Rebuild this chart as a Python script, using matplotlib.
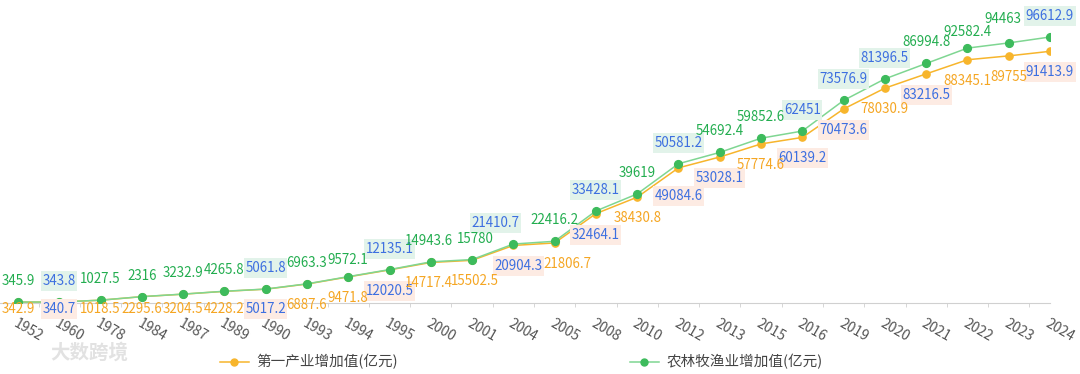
#!/usr/bin/env python3
"""Primary industry vs. farming/forestry/animal husbandry/fishery value added."""
import numpy as np
import matplotlib
matplotlib.use("Agg")
import matplotlib.pyplot as plt
from matplotlib.lines import Line2D
from matplotlib.path import Path

plt.rcParams["font.family"] = ["Noto Sans CJK SC", "DejaVu Sans"]

years = ["1952", "1960", "1978", "1984", "1987", "1989", "1990", "1993", "1994",
         "1995", "2000", "2001", "2004", "2005", "2008", "2010", "2012", "2013",
         "2015", "2016", "2019", "2020", "2021", "2022", "2023", "2024"]
primary = [342.9, 340.7, 1018.5, 2295.6, 3204.5, 4228.2, 5017.2, 6887.6, 9471.8,
           12020.5, 14717.4, 15502.5, 20904.3, 21806.7, 32464.1, 38430.8, 49084.6,
           53028.1, 57774.6, 60139.2, 70473.6, 78030.9, 83216.5, 88345.1, 89755,
           91413.9]
agri = [345.9, 343.8, 1027.5, 2316, 3232.9, 4265.8, 5061.8, 6963.3, 9572.1,
        12135.1, 14943.6, 15780, 21410.7, 22416.2, 33428.1, 39619, 50581.2,
        54692.4, 59852.6, 62451, 73576.9, 81396.5, 86994.8, 92582.4, 94463,
        96612.9]
name_primary = "第一产业增加值(亿元)"
name_agri = "农林牧渔业增加值(亿元)"

# labels drawn highlighted (blue text on a tinted box)
primary_hl = {1, 6, 9, 12, 14, 16, 17, 19, 20, 22, 25}
agri_hl = {1, 6, 9, 12, 14, 16, 19, 20, 21, 25}
# small label nudges (px) where labels were pushed apart
primary_dx = {10: -2, 11: 3, 12: 5, 13: 13}
primary_dy = {16: 28}
agri_dx = {10: -2, 11: 3, 12: -18, 24: -6}
agri_dy = {8: 17, 23: 16, 24: 24}

ORANGE = "#f7b52c"
GREEN_LINE = "#7fd692"
GREEN_MK = "#3dbb5c"
GREEN_TXT = "#22ad4f"
ORANGE_TXT = "#f5a623"
BLUE_TXT = "#3d6fe0"
GREEN_BOX = "#e2f3ea"
PINK_BOX = "#fdebe3"

W, H, DPI = 1080, 374, 100
fig = plt.figure(figsize=(W / DPI, H / DPI), dpi=DPI)

# axes geometry in pixels: category 0 at x=18, category 25 at x=1050, y=0 at 303
x0_px, x25_px, y0_px = 18, 1050, 303
step = (x25_px - x0_px) / 25
ymax = 100000
scale = 266 / 96612.9  # px per unit
left_px = x0_px - 0.5 * step
top_px = y0_px - ymax * scale
ax = fig.add_axes([left_px / W, (H - y0_px) / H,
                   (x25_px - left_px) / W, (y0_px - top_px) / H])

x = np.arange(len(years))
ax.plot(x, primary, color=ORANGE, lw=1.1, marker="o", ms=5.2,
        mfc=ORANGE, mec=ORANGE, zorder=3)
ax.plot(x, agri, color=GREEN_LINE, lw=1.1, marker="o", ms=5.6,
        mfc=GREEN_MK, mec=GREEN_MK, zorder=4)

ax.set_xlim(-0.5, 25)
ax.set_ylim(0, ymax)
for s in ["top", "right", "left"]:
    ax.spines[s].set_visible(False)
ax.spines["bottom"].set_color("#d0d0d0")
ax.set_yticks([])

ax.set_xticks(x)
ax.set_xticklabels(years, rotation=-30, ha="left", va="top",
                   rotation_mode="anchor", fontsize=10, color="#555555")
ax.tick_params(axis="x", which="major", length=0, pad=10)
ax.set_xticks(np.arange(-0.5, 25, 1), minor=True)
ax.tick_params(axis="x", which="minor", length=3, color="#d0d0d0", direction="out")


def tight_box(x0, y0, width, height, mutation_size):
    # narrow sides, taller top/bottom, like the reference label boxes
    px, py = 1.5, 3.0
    x0, y0 = x0 - px, y0 - py
    x1, y1 = x0 + width + 2 * px, y0 + height + 2 * py
    return Path([(x0, y0), (x1, y0), (x1, y1), (x0, y1), (x0, y0)], closed=True)


def fmt(v):
    return f"{v:g}"


def draw_labels(vals, hl, dx, dys, above, base_col, box_col):
    for i, v in enumerate(vals):
        vpx = v * scale
        if above:
            dy = dys.get(i, 21)
        else:
            dy = -min(dys.get(i, 21), 6 + vpx)
        kw = {}
        col = base_col
        z = 7
        if i in hl:
            col = BLUE_TXT
            z = 6  # boxed labels sit under the plain ones
            kw["bbox"] = dict(boxstyle=tight_box, fc=box_col, ec="none")
        ax.annotate(fmt(v), (i, v), xytext=(dx.get(i, 0) * 0.72, dy * 0.72),
                    textcoords="offset points", ha="center", va="center",
                    fontsize=9.6, color=col, zorder=z, annotation_clip=False, **kw)


draw_labels(agri, agri_hl, agri_dx, agri_dy, True, GREEN_TXT, GREEN_BOX)
draw_labels(primary, primary_hl, primary_dx, primary_dy, False, ORANGE_TXT, PINK_BOX)

# legend
h1 = Line2D([], [], color=ORANGE, lw=1.1, marker="o", ms=5, mfc=ORANGE, mec=ORANGE)
h2 = Line2D([], [], color=GREEN_LINE, lw=1.1, marker="o", ms=5, mfc=GREEN_MK, mec=GREEN_MK)
for h, lab, xpx in [(h1, name_primary, 214), (h2, name_agri, 624)]:
    fig.legend([h], [lab], loc="center left",
               bbox_to_anchor=(xpx / W, 1 - 362 / H), frameon=False,
               fontsize=10.5, labelcolor="#444444", handlelength=2.0,
               handletextpad=0.5, borderaxespad=0)

# watermark
fig.text(50 / W, 1 - 353 / H, "大数跨境", fontsize=14, color="#e2e2e2",
         va="center", ha="left", fontweight="bold")

fig.savefig("out.png", dpi=DPI)
